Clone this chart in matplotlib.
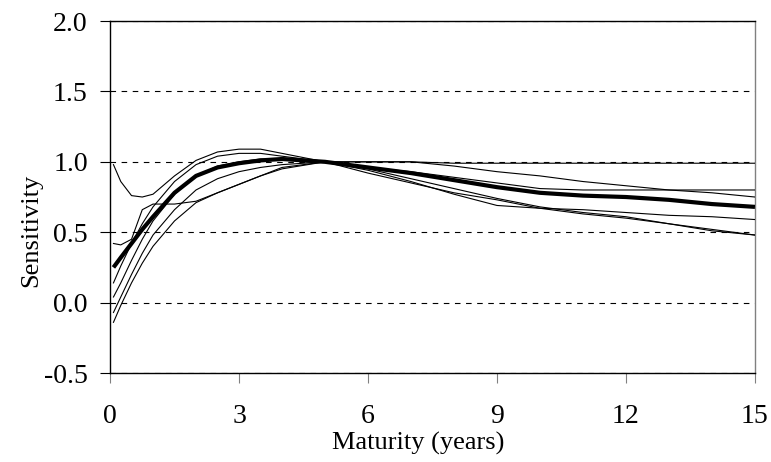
import numpy as np
import matplotlib
matplotlib.use('Agg')
import matplotlib.pyplot as plt

# maturities (years) at which sensitivities are read
maturity = [0.08, 0.25, 0.5, 0.75, 1, 1.5, 2, 2.5, 3, 3.5, 4, 5, 6, 7, 8, 9, 10, 11, 12, 13, 14, 15]

# individual curves (thin lines)
sens_a = [0.98, 0.86, 0.76, 0.75, 0.77, 0.90, 1.01, 1.07, 1.09, 1.09, 1.06, 1.00, 0.95, 0.88, 0.81, 0.74, 0.68, 0.64, 0.61, 0.56, 0.51, 0.48]
sens_b = [0.42, 0.41, 0.45, 0.66, 0.70, 0.70, 0.72, 0.78, 0.84, 0.90, 0.96, 1.00, 1.00, 1.00, 0.99, 0.99, 0.99, 0.99, 0.99, 0.99, 0.99, 0.99]
sens_c = [0.14, 0.26, 0.42, 0.56, 0.68, 0.86, 0.98, 1.04, 1.06, 1.06, 1.04, 1.00, 1.00, 1.00, 0.97, 0.93, 0.90, 0.86, 0.83, 0.80, 0.78, 0.75]
sens_d = [0.04, 0.14, 0.30, 0.45, 0.58, 0.77, 0.90, 0.97, 1.00, 1.02, 1.02, 1.00, 0.96, 0.93, 0.89, 0.85, 0.81, 0.80, 0.80, 0.80, 0.80, 0.80]
sens_e = [-0.07, 0.04, 0.20, 0.35, 0.48, 0.66, 0.80, 0.88, 0.93, 0.96, 0.98, 1.00, 0.94, 0.86, 0.77, 0.69, 0.67, 0.66, 0.64, 0.62, 0.61, 0.59]
sens_f = [-0.14, -0.02, 0.14, 0.28, 0.40, 0.58, 0.71, 0.78, 0.84, 0.90, 0.95, 1.00, 0.92, 0.85, 0.78, 0.73, 0.67, 0.63, 0.60, 0.56, 0.52, 0.48]

# average curve (thick line)
sens_avg = [0.25, 0.32, 0.42, 0.52, 0.61, 0.78, 0.90, 0.96, 0.99, 1.01, 1.02, 1.00, 0.96, 0.92, 0.87, 0.82, 0.78, 0.76, 0.75, 0.73, 0.70, 0.68]

yticks = [-0.5, 0.0, 0.5, 1.0, 1.5, 2.0]
xticks = [0, 3, 6, 9, 12, 15]

plt.rcParams['font.family'] = ['Liberation Serif', 'DejaVu Serif']

fig = plt.figure(figsize=(7.71, 4.62), dpi=100)
ax = fig.add_axes([0.1427, 0.1926, 0.8365, 0.7619])  # left, bottom, width, height

for s in [sens_a, sens_b, sens_c, sens_d, sens_e, sens_f]:
    ax.plot(maturity, s, color='black', lw=0.8, zorder=3)
ax.plot(maturity, sens_avg, color='black', lw=3.0, solid_capstyle='butt', zorder=4)

ax.set_xlim(0, 15)
ax.set_ylim(-0.5, 2.0)
ax.set_xticks(xticks)
ax.set_yticks(yticks)
ax.set_yticklabels(['%.1f' % v for v in yticks])
ax.grid(axis='y', color='black', lw=0.8, ls=(0, (5, 5)), zorder=1)

ax.tick_params(axis='y', direction='out', length=7, width=0.8, pad=9, labelsize=20, colors='black')
ax.tick_params(axis='x', direction='out', length=7, width=0.8, pad=15, labelsize=20,
               color='#808080', labelcolor='black')

for side in ['left', 'top', 'bottom']:
    ax.spines[side].set_color('black')
    ax.spines[side].set_linewidth(1.0)
ax.spines['right'].set_color('#808080')
ax.spines['right'].set_linewidth(1.0)

ax.set_xlabel('Maturity (years)', fontsize=19)
ax.set_ylabel('Sensitivity', fontsize=19)
ax.xaxis.set_label_coords(0.4775, -0.168)
ax.yaxis.set_label_coords(-0.105, 0.406)

fig.savefig('out.png', dpi=100)
